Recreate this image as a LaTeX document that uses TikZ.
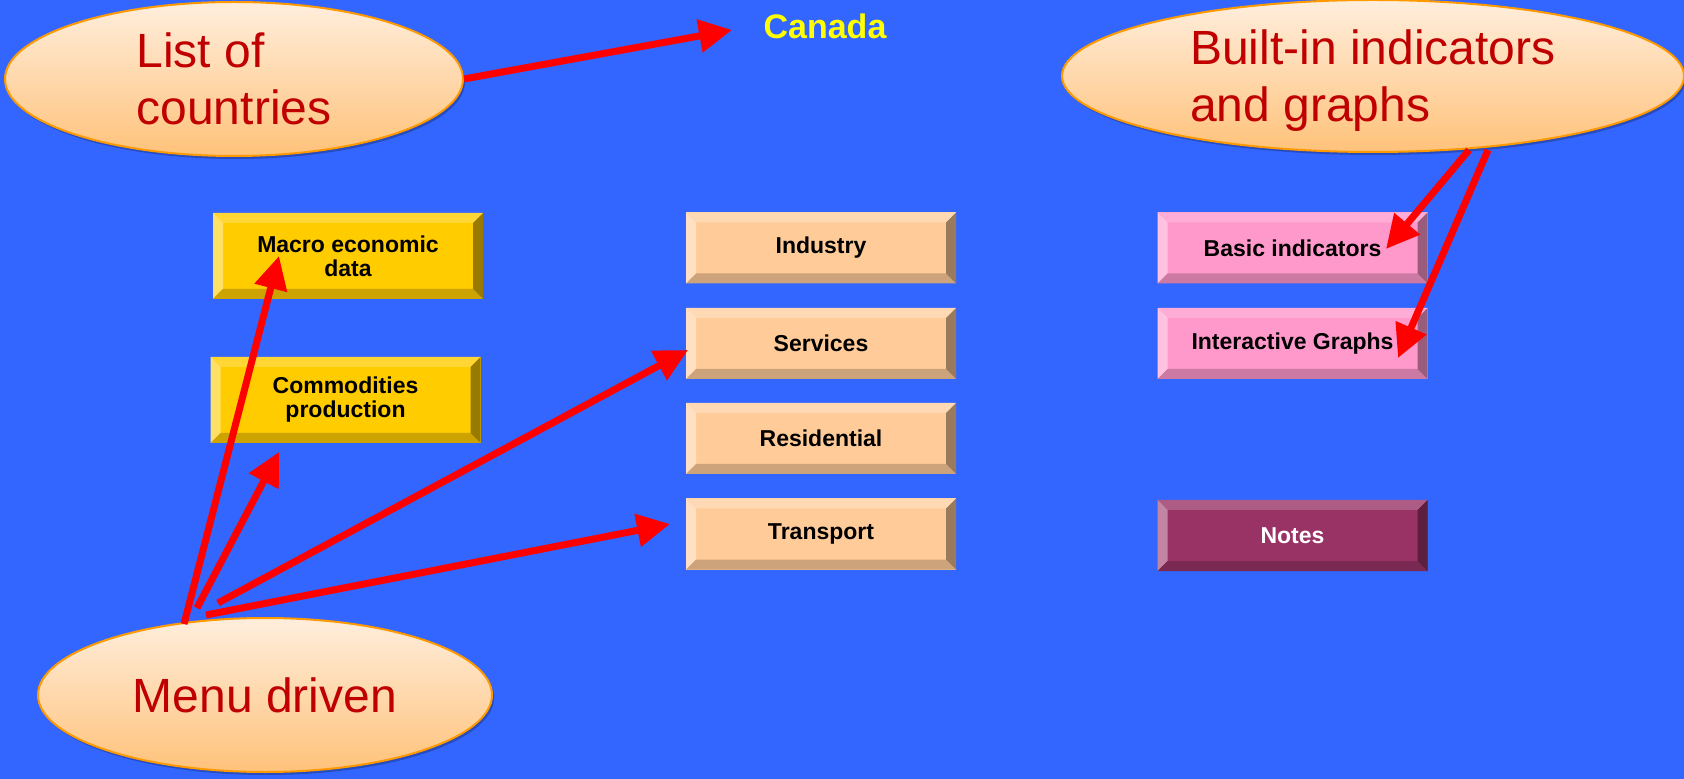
\documentclass[tikz,border=0pt]{standalone}
\usepackage{fontspec}
\setmainfont{Liberation Sans}
\usetikzlibrary{shapes.geometric,arrows.meta,shadows,calc}
\definecolor{bg}{HTML}{3366FF}
\definecolor{bubtop}{HTML}{FFEEDD}
\definecolor{bubbot}{HTML}{FFC27A}
\definecolor{bubline}{HTML}{FF9900}
\definecolor{bubtext}{HTML}{C00000}
\definecolor{canyellow}{HTML}{FFFF00}
\definecolor{goldF}{HTML}{FFCC00}\definecolor{goldT}{HTML}{FFD633}\definecolor{goldL}{HTML}{FFE066}\definecolor{goldB}{HTML}{CCA300}\definecolor{goldR}{HTML}{997A00}
\definecolor{peachF}{HTML}{FFCC99}\definecolor{peachT}{HTML}{FFD9B3}\definecolor{peachL}{HTML}{FFE0C2}\definecolor{peachB}{HTML}{CCA37A}\definecolor{peachR}{HTML}{997A5C}
\definecolor{pinkF}{HTML}{FF99CC}\definecolor{pinkT}{HTML}{FFADD6}\definecolor{pinkL}{HTML}{FFC2E0}\definecolor{pinkB}{HTML}{CC7AA3}\definecolor{pinkR}{HTML}{995C7A}
\definecolor{plumF}{HTML}{993366}\definecolor{plumT}{HTML}{AD5C85}\definecolor{plumL}{HTML}{C285A3}\definecolor{plumB}{HTML}{7A2952}\definecolor{plumR}{HTML}{5C1F3D}
\def\pb{path picture bounding box}
\tikzset{
  bubble/.style={ellipse, inner sep=0pt, draw=bubline, line width=1pt,
    top color=bubtop, bottom color=bubbot, text=bubtext, align=left,
    font=\fontsize{24}{28.5}\selectfont,
    drop shadow={shadow xshift=1pt, shadow yshift=-1.5pt, opacity=0.25, fill=black}},
  btn/.style n args={5}{rectangle, inner sep=0pt, minimum width=135pt, minimum height=35.5pt,
    fill=#1, align=center, font=\bfseries\fontsize{11.5}{12}\selectfont,
    path picture={
      \fill[#2] (\pb.north west) -- (\pb.north east) -- ++(-5pt,-5pt) -- ($(\pb.north west)+(5pt,-5pt)$) -- cycle;
      \fill[#3] (\pb.north west) -- (\pb.south west) -- ++(5pt,5pt) -- ($(\pb.north west)+(5pt,-5pt)$) -- cycle;
      \fill[#4] (\pb.south west) -- (\pb.south east) -- ++(-5pt,5pt) -- ($(\pb.south west)+(5pt,5pt)$) -- cycle;
      \fill[#5] (\pb.north east) -- (\pb.south east) -- ++(-5pt,5pt) -- ($(\pb.north east)+(-5pt,-5pt)$) -- cycle;
    }},
  goldbtn/.style={btn={goldF}{goldT}{goldL}{goldB}{goldR}, minimum height=43pt},
  peachbtn/.style={btn={peachF}{peachT}{peachL}{peachB}{peachR}},
  pinkbtn/.style={btn={pinkF}{pinkT}{pinkL}{pinkB}{pinkR}},
  plumbtn/.style={btn={plumF}{plumT}{plumL}{plumB}{plumR}, text=white},
  arr/.style={draw=red, line width=3.5pt, -{Triangle[length=16.5pt,width=16pt]}}
}
\begin{document}
\begin{tikzpicture}[x=0.5pt,y=-0.5pt]
\fill[bg] (0,0) rectangle (1684,779);
\useasboundingbox (0,0) rectangle (1684,779);

% bubbles
\node[bubble, minimum width=229pt, minimum height=77pt] (list) at (234,79) {List of\\countries};
\node[bubble, minimum width=311pt, minimum height=76pt, text depth=0pt] (built) at (1373,76) {Built-in indicators\\and graphs};
\node[bubble, minimum width=227pt, minimum height=77pt, align=center] (menu) at (265,695) {Menu driven};

% title
\node[font=\bfseries\fontsize{17}{18}\selectfont, text=canyellow] (canada) at (825,26) {Canada};

% buttons
\node[goldbtn] (macro) at (348,256) {Macro economic\\data};
\node[goldbtn] (commod) at (345.5,400) {Commodities\\production};
\node[peachbtn] (industry) at (821,248) {Industry};
\node[peachbtn] (services) at (821,343.5) {Services};
\node[peachbtn] (residential) at (821,438.5) {Residential};
\node[peachbtn] (transport) at (821,534) {Transport};
\node[pinkbtn] (basic) at (1292.5,248) {Basic indicators};
\node[pinkbtn] (interactive) at (1292.5,343.5) {Interactive Graphs};
\node[plumbtn] (notes) at (1292.5,535.5) {Notes};

% arrow ends
\coordinate (tCanada) at (732,30);
\coordinate (sMacro) at (184,624);
\coordinate (tMacro) at (279,256);
\coordinate (sCommod) at (197,608);
\coordinate (tCommod) at (279,452);
\coordinate (sServ) at (218,603);
\coordinate (tServ) at (688,350);
\coordinate (sTrans) at (206,615);
\coordinate (tTrans) at (670,524);
\coordinate (sBasic) at (1469,150);
\coordinate (tBasic) at (1386,249);
\coordinate (sInter) at (1488,150);
\coordinate (tInter) at (1398,358);

% arrows
\draw[arr] (list.east) -- (tCanada);
\draw[arr] (sMacro) -- (tMacro);
\draw[arr] (sCommod) -- (tCommod);
\draw[arr] (sServ) -- (tServ);
\draw[arr] (sTrans) -- (tTrans);
\draw[arr] (sBasic) -- (tBasic);
\draw[arr] (sInter) -- (tInter);
\end{tikzpicture}
\end{document}
